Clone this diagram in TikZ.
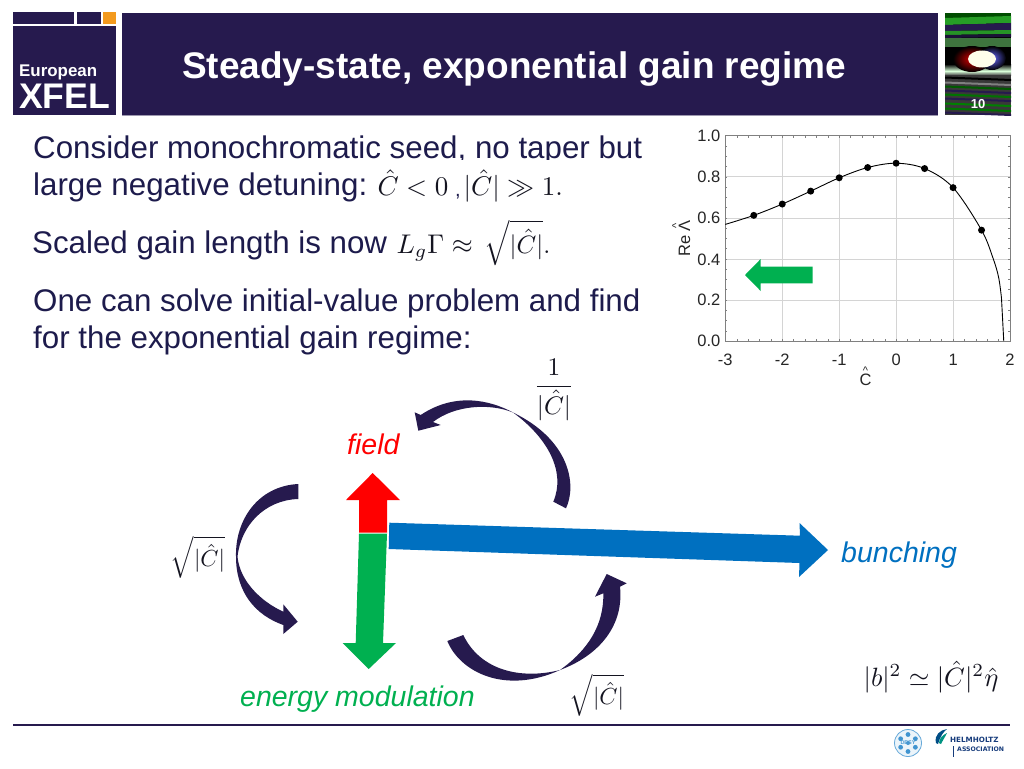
\documentclass[tikz,border=0pt]{standalone}
\usepackage[no-math]{fontspec}
\usepackage{amsmath}
\setmainfont{Liberation Sans}
\newfontfamily\dvbold[Scale=1]{DejaVu Sans Bold}
\definecolor{navy}{HTML}{261A4E}
\definecolor{bodyc}{HTML}{1D1B4C}
\definecolor{xgreen}{HTML}{00B050}
\definecolor{xblue}{HTML}{0070C0}
\definecolor{xorange}{HTML}{F39A1E}
\definecolor{gridc}{HTML}{D4D4D4}
\definecolor{framec}{HTML}{808080}
\definecolor{mathc}{HTML}{141420}
\newcommand{\px}[1]{\fontsize{#1}{#1}\selectfont}
\newcommand{\hatted}[1]{\ooalign{#1\cr\hidewidth\raisebox{.62em}{\fontsize{11}{11}\selectfont\textasciicircum}\hidewidth\cr}}
\tikzset{
  body/.style={anchor=base west,inner sep=0,text=bodyc,font=\px{31.3}},
  mathtxt/.style={inner sep=0,text=mathc,scale=2.7},
  label/.style={anchor=base west,inner sep=0,font=\px{28.5}\itshape},
  tick/.style={inner sep=0,font=\px{16.5},text=black!85},
  curved/.style={fill=navy,draw=none},
}
\begin{document}
\begin{tikzpicture}[x=1pt,y=-1pt]
\useasboundingbox (0,0) rectangle (1024,768);
\fill[white] (0,0) rectangle (1024,768);
% logo
\fill[navy] (13,12) rectangle (74,24);
\fill[navy] (77,12) rectangle (101,24);
\fill[xorange] (103,12) rectangle (116,24);
\fill[navy] (13,26.5) rectangle (116,115);
\node[anchor=base west,inner sep=0,text=white,font=\px{16.9}\bfseries] (eu) at (19,76.5) {European};
\node[anchor=base west,inner sep=0,text=white,font=\px{35.6}\bfseries] (xfel) at (19,108.3) {XFEL};
% header
\fill[navy] (122,13) rectangle (938,115);
\draw[navy!45!white,line width=.5pt] (122,115) -- (938,115);
\node[anchor=base west,inner sep=0,text=white,font=\px{37}\bfseries] (title) at (182,78) {Steady-state, exponential gain regime};
% photo
\begin{scope}
\clip (945,13) rectangle (1011,115);
\fill[black] (945,13) rectangle (1011,115);
\fill[green!30!black] (945,13) rectangle (1011,18);
\fill[green!55!black!85!white] (945,18) -- (1011,16) -- (1011,23) -- (945,25) -- cycle;
\fill[navy] (945,25) -- (1011,23) -- (1011,30) -- (945,31) -- cycle;
\fill[green!50!black!85!white] (945,31) -- (1011,30) -- (1011,34) -- (945,35) -- cycle;
\fill[navy!70!black] (945,35) -- (1011,34) -- (1011,37) -- (945,38) -- cycle;
\fill[gray!70!green!70!black] (945,38) rectangle (1011,47);
\shade[top color=black,bottom color=white!85!green] (945,64) rectangle (1011,71);
\shade[top color=white!85!green,bottom color=gray!60!black] (945,71) rectangle (1011,75);
\fill[gray!45!black] (945,75) rectangle (1011,115);
\foreach \yy/\cc in {78/black,83/gray,87/green!35!black,91/navy,95/green!45!black,99/navy,104/green!50!black,109/green!45!black,113/navy}
  \fill[\cc] (945,\yy-1.5) -- (1011,\yy+1) -- (1011,\yy+3) -- (945,\yy+.5) -- cycle;
\shade[inner color=red!85!black,outer color=black] (972,59) ellipse (19 and 13);
\shade[inner color=blue!60!white,outer color=black] (992,58) ellipse (14 and 12);
\fill[white!92!yellow] (982,59) ellipse (14 and 8.5);
\end{scope}
\node[inner sep=0,text=white,font=\px{13}\bfseries] (num) at (978,104.5) {10};
% body text
\begin{scope}
\clip (20,125) rectangle (660,159.5);
\node[body] (l1) at (33,158) {Consider monochromatic seed, no taper but};
\end{scope}
\node[body] (l2) at (33,195) {large negative detuning:};
\node[mathtxt,anchor=base west] (m1) at (377,195) {$\hat C<0$};
\node[inner sep=0,anchor=base west,font=\px{20},text=bodyc] (cm) at (455,196) {,};
\node[mathtxt,anchor=base west] (m2) at (463,195) {$|\hat C|\gg 1.$};
\node[body] (l3) at (32,253) {Scaled gain length is now};
\node[mathtxt,anchor=base west] (m3) at (396,253) {$L_g\Gamma\approx$};
\node[mathtxt,anchor=base west,scale=.93] (m4) at (484,253) {$\sqrt{|\hat C|}.$};
\node[body] (l4) at (33,311) {One can solve initial-value problem and find};
\node[body] (l5) at (33,348) {for the exponential gain regime:};
% chart
\begin{scope}[shift={(725.3,341)},x=56.94pt,y=205.3pt]
\foreach \gx in {-2,-1,0,1} \draw[gridc,line width=.6pt] (\gx+3,0) -- (\gx+3,1);
\foreach \gy in {0.2,0.4,0.6,0.8} \draw[gridc,line width=.6pt] (0,\gy) -- (5,\gy);
\foreach \gx in {0.2,0.4,...,4.9} { \draw[framec,line width=.4pt] (\gx,0) -- (\gx,0.012); \draw[framec,line width=.4pt] (\gx,1) -- (\gx,0.988);}
\foreach \gy in {0.05,0.1,...,0.96} { \draw[framec,line width=.4pt] (0,\gy) -- (0.035,\gy); \draw[framec,line width=.4pt] (5,\gy) -- (4.965,\gy);}
\draw[framec,line width=.9pt] (0,0) rectangle (5,1);
\draw[black,line width=.9pt] plot[smooth,tension=.55] coordinates {(0,.568) (.5,.612) (1,.667) (1.5,.73) (2,.795) (2.5,.845) (3,.866) (3.5,.84) (4,.747) (4.5,.54) (4.7,.405) (4.8,.31) (4.85,.21)} -- (4.89,0);
\foreach \px/\py in {.5/.612,1/.667,1.5/.73,2/.795,2.5/.845,3/.866,3.5/.84,4/.747,4.5/.54}
  \fill[black] (\px,\py) circle [radius=3.5pt];
\end{scope}
\foreach \t/\yy in {1.0/136,0.8/177,0.6/218,0.4/259.5,0.2/300,0.0/341}
  \node[tick,anchor=east] (y\t) at (720.5,\yy) {\t};
\foreach \t/\xx in {-3/725.3,-2/782.2,-1/839.2,0/896.1,1/953.1,2/1010}
  \node[tick] (x\t) at (\xx,360) {\t};
\node[tick,rotate=90,anchor=base west] (ylab) at (690,257) {Re \hatted{Λ}};
\node[tick,anchor=base] (xlab) at (865.5,385) {\hatted{C}};
\fill[xgreen] (745,275) -- (760.7,259) -- (760.7,266.7) -- (812.7,266.7) -- (812.7,283.3) -- (760.7,283.3) -- (760.7,291) -- cycle;
% big arrows
\fill[red] (372.7,473) -- (400,500) -- (387,500) -- (387,532.7) -- (359,532.7) -- (359,500) -- (346,500) -- cycle;
\fill[xgreen] (359,533.7) -- (387,533.7) -- (383,643) -- (396,643) -- (368.7,669) -- (342.7,643) -- (355.7,643) -- cycle;
\fill[xblue] (389.3,522.7) -- (800,535.7) -- (799.5,523) -- (828,550) -- (799,577) -- (799.5,563) -- (388.7,549) -- cycle;
% curved arrows
\fill[curved] (298.3,484) .. controls (258,486) and (235,520) .. (236,556.7) .. controls (236,592) and (255,615) .. (283.3,625)
  -- (283.3,634) -- (297.7,621.7) -- (283.3,604.3) -- (283.3,611.7)
  .. controls (262,602) and (240,582) .. (237.5,556.7) .. controls (241,525) and (265,500) .. (298.3,499) -- cycle;
\fill[curved] (566,508.3) .. controls (577,485) and (570,440) .. (513,412.5) .. controls (490,400) and (455,392) .. (420.7,415)
  -- (414.7,412.3) -- (418.3,430.7) -- (440.7,425) -- (433,422)
  .. controls (455,405) and (490,403) .. (513,412.5) .. controls (548,438) and (566,472) .. (553.3,501.7) -- cycle;
\fill[curved] (447.3,641) .. controls (460,672) and (505,695) .. (560,670) .. controls (600,655) and (624,625) .. (620,586.7)
  -- (626.7,583.3) -- (606.7,574) -- (595,596.7) -- (603.3,593.3)
  .. controls (604,625) and (588,650) .. (560,670) .. controls (520,680) and (480,670) .. (463.3,635) -- cycle;
% labels
\node[label,text=red] (field) at (347,454) {field};
\node[label,text=xgreen] (energy) at (240,706) {energy modulation};
\node[label,text=xblue] (bunch) at (841,562) {bunching};
\node[mathtxt,scale=.94] (f1) at (554,390) {$\dfrac{1}{|\hat C|}$};
\node[mathtxt,scale=.86] (s1) at (198,557) {$\sqrt{|\hat C|}$};
\node[mathtxt,scale=.86] (s2) at (597,695) {$\sqrt{|\hat C|}$};
\node[mathtxt,scale=.98] (bf) at (931,677) {$|b|^2\simeq|\hat C|^2\hat\eta$};
% footer
\draw[navy,line width=1.2pt] (13,725) -- (1010,725);
\draw[xblue!60!white,fill=xblue!8!white,line width=.8pt] (908,743) circle (13.5);
\foreach \a in {0,60,...,300} \fill[xblue!75!white] (908,743) ++(\a+30:8.5) circle (2.4);
\fill[xblue!75!white] (908,743) circle (2);
\node[inner sep=0,text=xblue!70!white,font=\px{5.5}\bfseries] (desy) at (908,743) {DESY};
\fill[xblue!70!black] (936,743) .. controls (934,735) and (940,730) .. (947,729) .. controls (943,732) and (940,737) .. (938,744) -- cycle;
\fill[xgreen!55!xblue] (939,743) .. controls (939,738) and (943,735) .. (947,733) .. controls (945,737) and (943,740) .. (941,744) -- cycle;
\node[anchor=west,inner sep=0,text=navy!60!xblue,font=\px{7.2}\dvbold] (hh) at (950,739.5) {HELMHOLTZ};
\node[anchor=west,inner sep=0,text=navy!60!xblue,font=\px{6.2}\dvbold] (ha) at (957,749) {ASSOCIATION};
\draw[navy!60!xblue,line width=.5pt] (953.5,746) -- (953.5,757);
\end{tikzpicture}
\end{document}
